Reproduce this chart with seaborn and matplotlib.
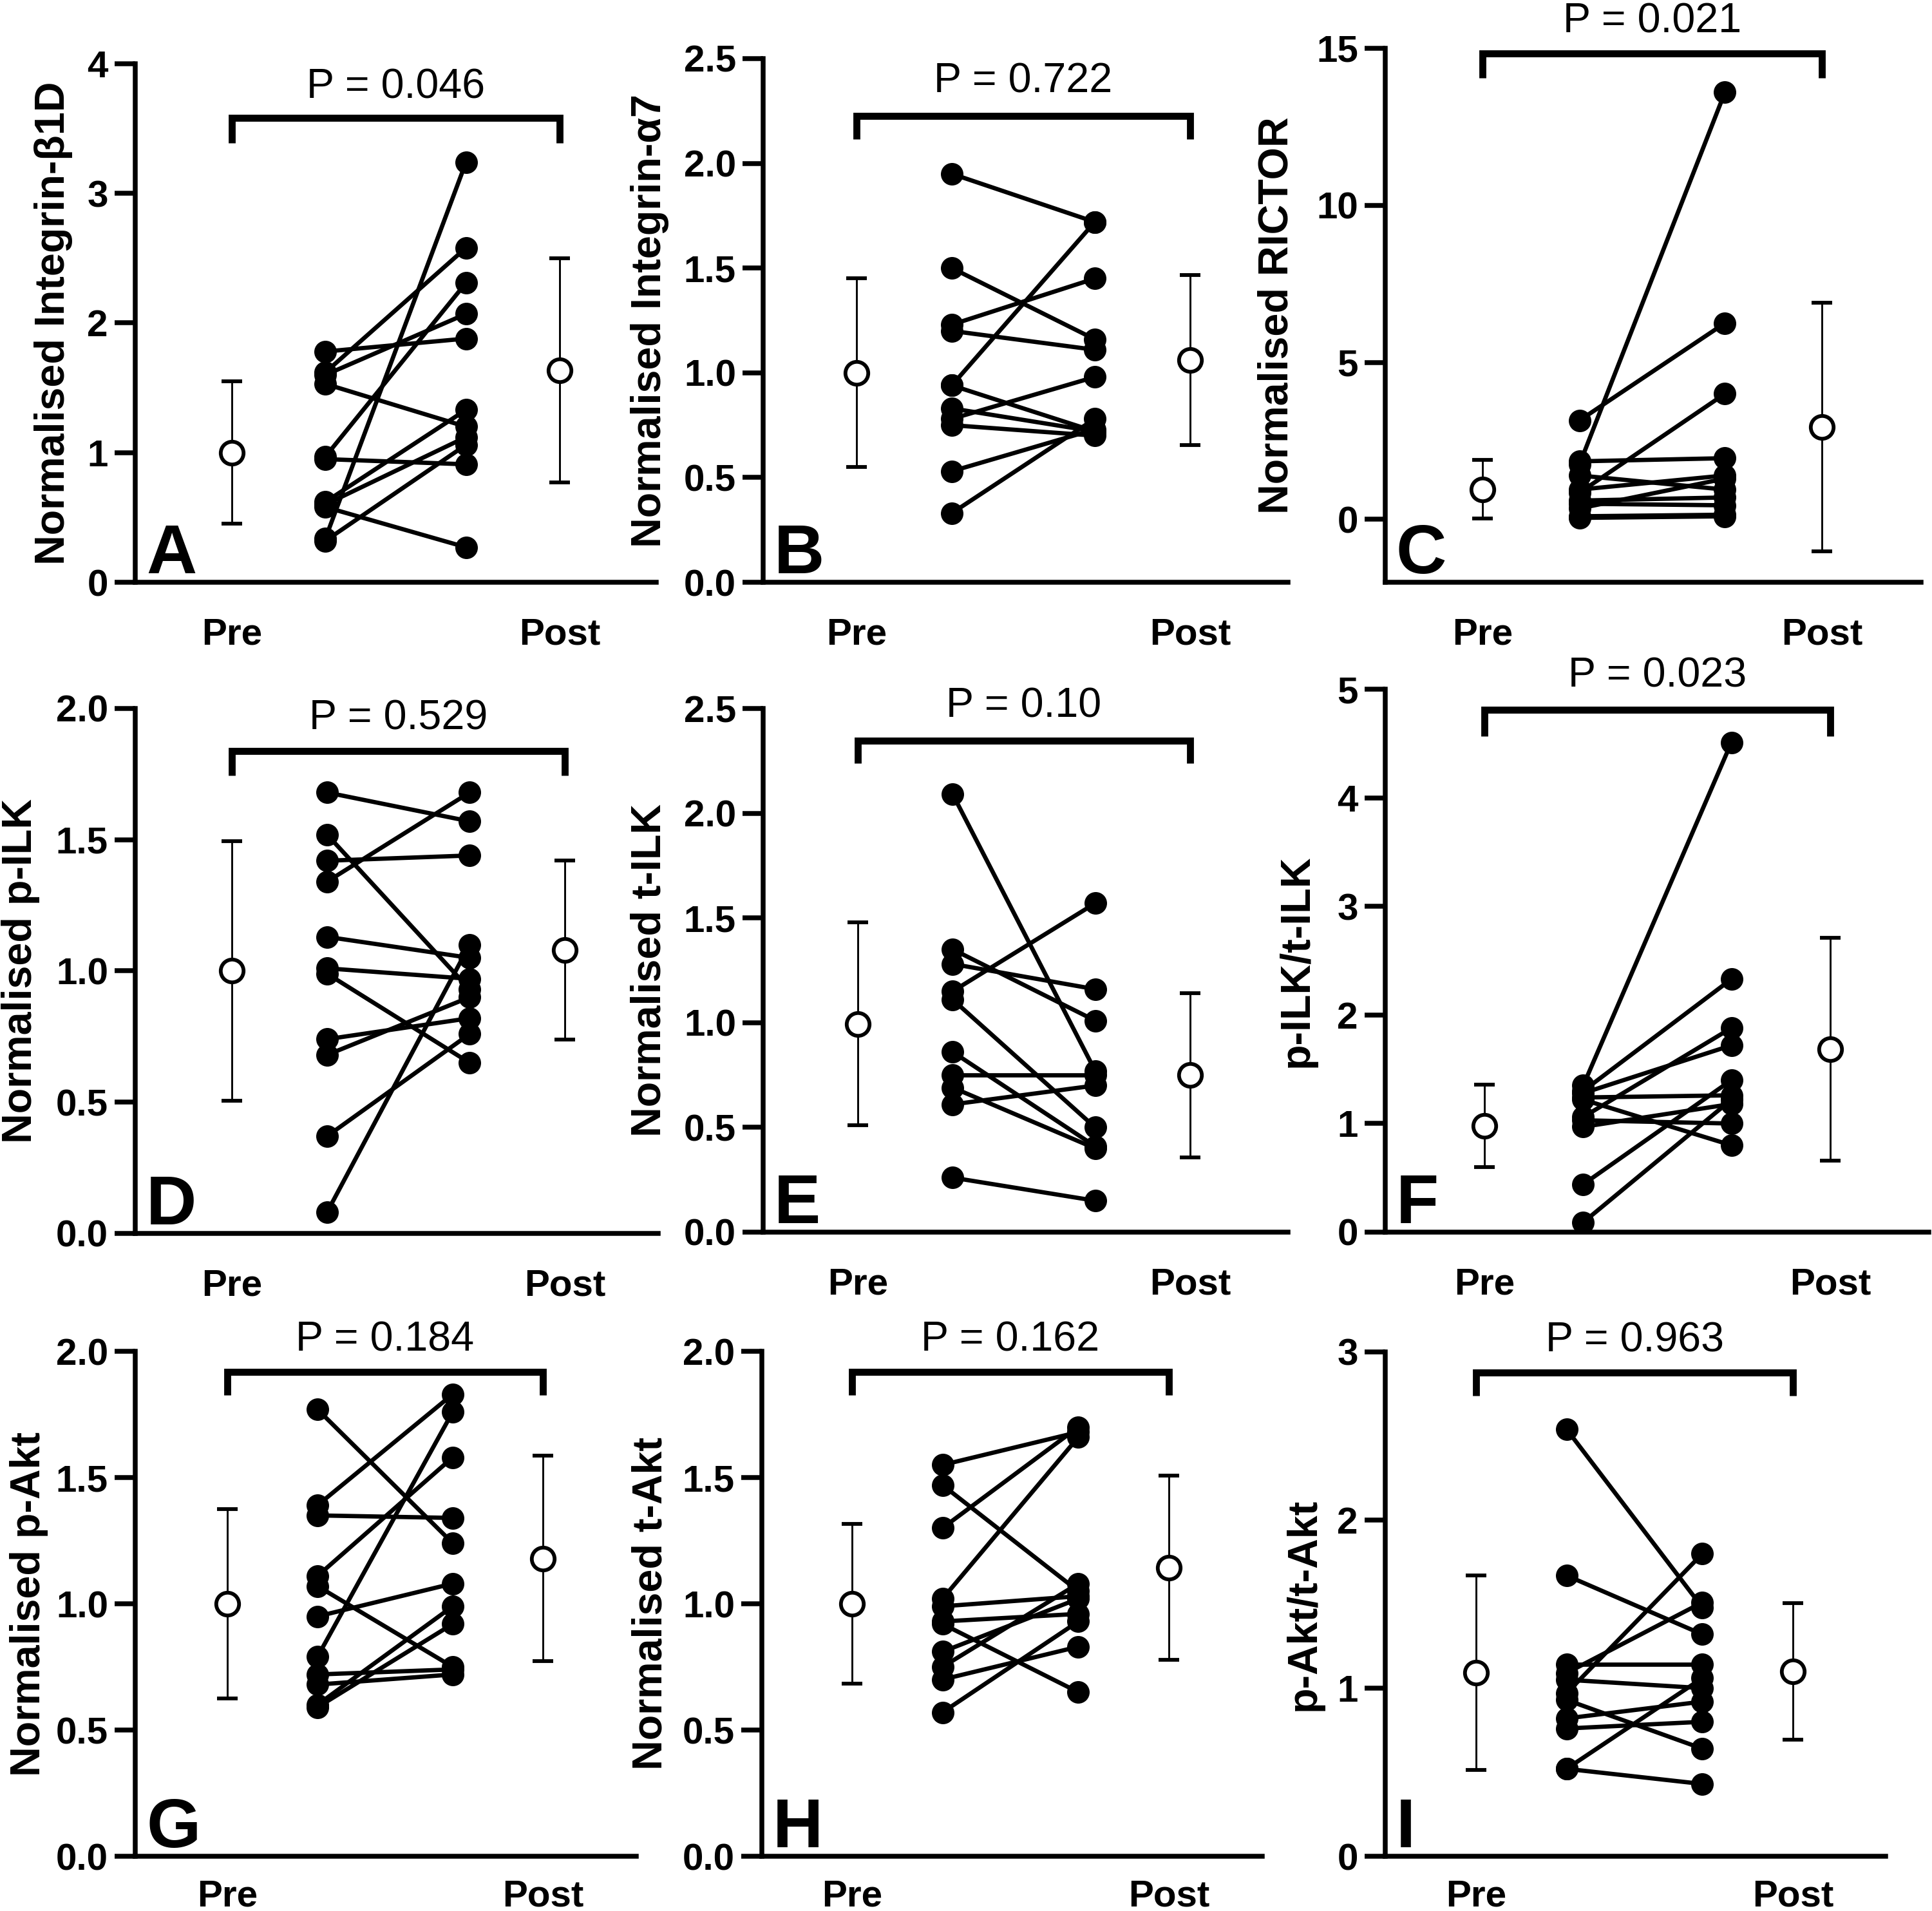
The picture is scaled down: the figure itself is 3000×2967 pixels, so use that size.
import numpy as np
import pandas as pd
import matplotlib
matplotlib.use("Agg")
import matplotlib.pyplot as plt
import matplotlib.transforms as mtransforms
import seaborn as sns

# ---------------- data ----------------
panel_letters = ["A", "B", "C", "D", "E", "F", "G", "H", "I"]
y_labels = ["Normalised Integrin-β1D", "Normalised Integrin-α7", "Normalised RICTOR",
            "Normalised p-ILK", "Normalised t-ILK", "p-ILK/t-ILK",
            "Normalised p-Akt", "Normalised t-Akt", "p-Akt/t-Akt"]
p_texts = ["P = 0.046", "P = 0.722", "P = 0.021",
           "P = 0.529", "P = 0.10", "P = 0.023",
           "P = 0.184", "P = 0.162", "P = 0.963"]
group_labels = ["Pre", "Post"]

A_pre  = [1.78, 1.62, 1.60, 1.53, 0.97, 0.95, 0.62, 0.60, 0.58, 0.34, 0.32]
A_post = [1.88, 2.58, 2.07, 1.20, 2.31, 0.91, 1.33, 1.12, 0.27, 3.24, 1.06]
B_pre  = [1.95, 1.50, 1.23, 1.20, 0.94, 0.94, 0.83, 0.78, 0.75, 0.53, 0.33]
B_post = [1.72, 1.16, 1.45, 1.11, 1.72, 0.72, 0.72, 0.98, 0.70, 0.73, 0.78]
C_pre  = [3.15, 1.85, 1.75, 1.40, 0.95, 0.85, 0.60, 0.35, 0.50, 0.10, 0.05]
C_post = [6.25, 1.95, 13.6, 0.95, 1.40, 4.00, 0.70, 1.30, 0.45, 0.15, 0.10]
D_pre  = [1.68, 1.52, 1.42, 1.34, 1.13, 1.01, 0.99, 0.74, 0.68, 0.37, 0.08]
D_post = [1.57, 0.93, 1.44, 1.68, 1.05, 0.97, 0.65, 0.82, 0.90, 0.76, 1.10]
E_pre  = [2.09, 1.35, 1.28, 1.15, 1.11, 0.86, 0.75, 0.69, 0.61, 0.26]
E_post = [0.77, 1.01, 1.16, 1.57, 0.50, 0.41, 0.75, 0.40, 0.70, 0.15]
F_pre  = [1.35, 1.30, 1.28, 1.24, 1.22, 1.06, 1.03, 0.97, 0.44, 0.09]
F_post = [4.51, 2.33, 1.72, 1.26, 0.80, 1.88, 1.00, 1.18, 1.40, 1.22]
G_pre  = [1.77, 1.39, 1.35, 1.11, 1.07, 0.95, 0.79, 0.72, 0.68, 0.60, 0.59]
G_post = [1.24, 1.83, 1.34, 1.58, 0.75, 1.08, 1.76, 0.74, 0.72, 0.99, 0.92]
H_pre  = [1.55, 1.47, 1.30, 1.02, 0.99, 0.93, 0.92, 0.81, 0.75, 0.70, 0.57]
H_post = [1.68, 1.05, 1.70, 1.66, 1.03, 0.96, 0.65, 1.02, 1.08, 0.83, 0.93]
I_pre  = [2.54, 1.67, 1.14, 1.09, 1.05, 0.97, 0.93, 0.82, 0.76, 0.52, 0.52]
I_post = [1.48, 1.32, 1.14, 1.51, 1.00, 1.80, 0.64, 0.92, 0.80, 1.06, 0.43]

pre_mean  = [1.00, 1.00, 0.96, 1.00, 0.994, 0.98, 1.00, 1.00, 1.092]
pre_sd    = [0.55, 0.45, 0.93, 0.494, 0.484, 0.378, 0.374, 0.316, 0.577]
post_mean = [1.634, 1.061, 2.945, 1.08, 0.749, 1.684, 1.179, 1.143, 1.099]
post_sd   = [0.865, 0.407, 3.96, 0.342, 0.392, 1.026, 0.407, 0.364, 0.407]

y_limits = [(0, 4), (0, 2.5), (-2, 15), (0, 2.0), (0, 2.5), (0, 5), (0, 2.0), (0, 2.0), (0, 3)]
y_ticks = [[0, 1, 2, 3, 4], [0, 0.5, 1.0, 1.5, 2.0, 2.5], [0, 5, 10, 15],
           [0, 0.5, 1.0, 1.5, 2.0], [0, 0.5, 1.0, 1.5, 2.0, 2.5], [0, 1, 2, 3, 4, 5],
           [0, 0.5, 1.0, 1.5, 2.0], [0, 0.5, 1.0, 1.5, 2.0], [0, 1, 2, 3]]
y_tick_fmt = ["{:.0f}", "{:.1f}", "{:.0f}", "{:.1f}", "{:.1f}", "{:.0f}", "{:.1f}", "{:.1f}", "{:.0f}"]

pre_values = [A_pre, B_pre, C_pre, D_pre, E_pre, F_pre, G_pre, H_pre, I_pre]
post_values = [A_post, B_post, C_post, D_post, E_post, F_post, G_post, H_post, I_post]

# x positions of the four columns: mean Pre, paired Pre, paired Post, mean Post
X_MEAN_PRE, X_PRE, X_POST, X_MEAN_POST = 0.0, 1.0, 2.5, 3.5

# ---------------- layout (pixels in the 3000 x 2967 output) ----------------
W, H = 3000, 2967
# spine-left, axis right end, top (ylim max), bottom (ylim min), pre column px, post column px
geom = [
    (210, 1019, 99, 904, 360, 869),
    (1185, 2000, 91, 904, 1330, 1848),
    (2151, 2983, 75, 904, 2302, 2829),
    (210, 1022, 1100, 1915, 360, 877),
    (1185, 2000, 1100, 1913, 1332, 1848),
    (2151, 2995, 1070, 1913, 2305, 2842),
    (210, 988, 2098, 2882, 353, 843),
    (1183, 1960, 2098, 2882, 1323, 1815),
    (2151, 2928, 2099, 2882, 2292, 2784),
]
# bracket bar, bracket feet, p-text baseline (axes fraction)
bracket_pos = [
    (0.896, 0.847, 0.934), (0.890, 0.846, 0.935), (0.990, 0.945, 1.030),
    (0.919, 0.872, 0.960), (0.938, 0.895, 0.983), (0.962, 0.913, 1.004),
    (0.959, 0.913, 1.001), (0.959, 0.913, 1.001), (0.959, 0.913, 1.001),
]
ylabel_anchor_px = [113, 1039, 2012, 62, 1039, 2044, 75, 1041, 2055]
xlabel_pad = [13, 13, 13, 13, 13, 13, 8.5, 8.5, 8.5]

sns.set_theme(style="ticks")
plt.rcParams["font.family"] = ["Liberation Sans", "DejaVu Sans"]

fig = plt.figure(figsize=(W / 300, H / 300), dpi=300)

for i in range(9):
    left, right, top, bottom, px_pre, px_post = geom[i]
    ax = fig.add_axes([left / W, 1 - bottom / H, (right - left) / W, (bottom - top) / H])
    unit = (px_post - px_pre) / (X_MEAN_POST - X_MEAN_PRE)
    ax.set_xlim((left - px_pre) / unit, (right - px_pre) / unit)
    ax.set_ylim(*y_limits[i])

    pre = pre_values[i]
    post = post_values[i]
    n = len(pre)
    df = pd.DataFrame({
        "subject": list(range(n)) * 2,
        "x": [X_PRE] * n + [X_POST] * n,
        "value": list(pre) + list(post),
    })
    sns.lineplot(data=df, x="x", y="value", units="subject", estimator=None,
                 color="black", linewidth=1.6, marker="o", markersize=8.4,
                 markeredgewidth=0, legend=False, sort=False, ax=ax, zorder=3)

    for xm, m, s in [(X_MEAN_PRE, pre_mean[i], pre_sd[i]), (X_MEAN_POST, post_mean[i], post_sd[i])]:
        ax.errorbar([xm], [m], yerr=[s], fmt="o", mfc="white", mec="black",
                    ms=8.5, mew=1.4, ecolor="black", elinewidth=0.7,
                    capsize=3.9, capthick=0.7, zorder=4)

    # significance bracket
    bar, feet, ptxt = bracket_pos[i]
    trans = mtransforms.blended_transform_factory(ax.transData, ax.transAxes)
    ax.plot([X_MEAN_PRE, X_MEAN_PRE, X_MEAN_POST, X_MEAN_POST], [feet, bar, bar, feet],
            transform=trans, color="black", lw=2.6, clip_on=False,
            solid_joinstyle="miter", solid_capstyle="butt", zorder=5)
    ax.text((X_MEAN_PRE + X_MEAN_POST) / 2, ptxt, p_texts[i], transform=trans,
            ha="center", va="baseline", fontsize=15.5, color="black", clip_on=False)

    # panel letter
    ltrans = mtransforms.offset_copy(ax.transAxes, fig=fig, x=17, y=14, units="dots")
    ax.text(0, 0, panel_letters[i], transform=ltrans, ha="left", va="baseline",
            fontsize=26, fontweight="bold", color="black")

    # axes styling
    sns.despine(ax=ax)
    for sp in ["left", "bottom"]:
        ax.spines[sp].set_linewidth(1.8)
        ax.spines[sp].set_color("black")
    ax.set_yticks(y_ticks[i])
    ax.set_yticklabels([y_tick_fmt[i].format(t) for t in y_ticks[i]],
                       fontweight="bold", fontsize=14)
    ax.set_xticks([X_MEAN_PRE, X_MEAN_POST])
    ax.set_xticklabels(group_labels, fontweight="bold", fontsize=14)
    ax.tick_params(axis="y", length=7.7, width=1.8, pad=2.4, color="black", labelcolor="black")
    ax.tick_params(axis="x", length=0, pad=xlabel_pad[i], labelcolor="black")
    ax.set_xlabel("")
    ax.set_ylabel(y_labels[i], fontsize=15.5, fontweight="bold", color="black")
    ax.yaxis.set_label_coords((ylabel_anchor_px[i] - left) / (right - left), 0.5)
    ax.set_facecolor("none")

fig.savefig("out.png", dpi=300, facecolor="white")
